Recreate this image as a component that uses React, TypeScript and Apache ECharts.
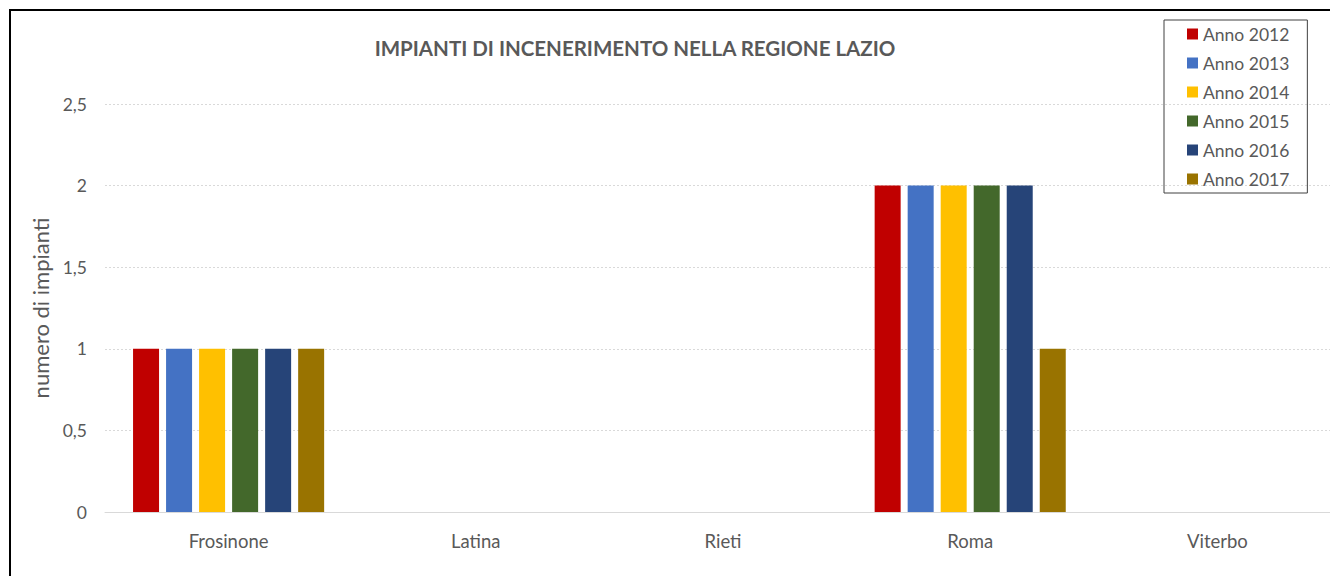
import React, { useEffect, useRef } from "react";
import * as echarts from "echarts";

const categories = ["Frosinone", "Latina", "Rieti", "Roma", "Viterbo"];
const seriesNames = ["Anno 2012", "Anno 2013", "Anno 2014", "Anno 2015", "Anno 2016", "Anno 2017"];
const anno2012 = [1, 0, 0, 2, 0];
const anno2013 = [1, 0, 0, 2, 0];
const anno2014 = [1, 0, 0, 2, 0];
const anno2015 = [1, 0, 0, 2, 0];
const anno2016 = [1, 0, 0, 2, 0];
const anno2017 = [1, 0, 0, 1, 0];
const seriesValues = [anno2012, anno2013, anno2014, anno2015, anno2016, anno2017];
const colors = ["#C00000", "#4472C4", "#FFC000", "#43682B", "#264478", "#997300"];

const FONT = "Lato, 'Open Sans', sans-serif";

export default function App() {
  const ref = useRef<HTMLDivElement>(null);
  useEffect(() => {
    if (!ref.current) return;
    const chart = echarts.init(ref.current, null, { renderer: "svg" });
    chart.setOption({
      animation: false,
      backgroundColor: "#ffffff",
      textStyle: { fontFamily: FONT },
      title: {
        text: "IMPIANTI DI INCENERIMENTO NELLA REGIONE LAZIO",
        left: 635,
        textAlign: "center",
        top: 32,
        textStyle: { fontFamily: FONT, fontSize: 20.5, fontWeight: "bold", color: "#595959" },
      },
      legend: {
        orient: "vertical",
        left: 1164,
        top: 20,
        padding: [5, 18, 5, 23],
        itemGap: 11,
        itemWidth: 11,
        itemHeight: 11,
        icon: "rect",
        borderColor: "#404040",
        borderWidth: 1,
        data: seriesNames,
        textStyle: { fontFamily: FONT, fontSize: 17.5, color: "#595959", lineHeight: 18 },
      },
      grid: { left: 105, right: 1, top: 104, bottom: 64 },
      xAxis: {
        type: "category",
        data: categories,
        axisTick: { show: false },
        axisLine: { lineStyle: { color: "#d9d9d9", width: 1 } },
        axisLabel: { fontFamily: FONT, fontSize: 18.5, color: "#595959", margin: 19 },
      },
      yAxis: {
        type: "value",
        min: 0,
        max: 2.5,
        interval: 0.5,
        name: "numero di impianti",
        nameLocation: "middle",
        nameGap: 50,
        nameTextStyle: { fontFamily: FONT, fontSize: 22, color: "#595959" },
        axisLabel: {
          fontFamily: FONT,
          fontSize: 17.5,
          color: "#595959",
          margin: 18,
          formatter: (v: number) => String(v).replace(".", ","),
        },
        splitLine: { lineStyle: { color: "#d9d9d9", type: [2, 2], width: 1 } },
      },
      series: seriesNames.map((name, i) => ({
        name,
        type: "bar",
        data: seriesValues[i],
        itemStyle: { color: colors[i] },
        barWidth: 26,
        barGap: "27%",
      })),
      graphic: [
        { type: "line", shape: { x1: 9, y1: 10, x2: 1342, y2: 10 }, style: { stroke: "#000", lineWidth: 2 } },
        { type: "line", shape: { x1: 10, y1: 9, x2: 10, y2: 576 }, style: { stroke: "#000", lineWidth: 2 } },
      ],
    });
    chart.setOption({ title: { left: 630 } });
    return () => chart.dispose();
  }, []);
  return (
    <div style={{ position: "absolute", left: 0, top: 0, width: 1330, height: 576, overflow: "hidden" }}>
      <div ref={ref} style={{ width: 1342, height: 576 }} />
    </div>
  );
}
